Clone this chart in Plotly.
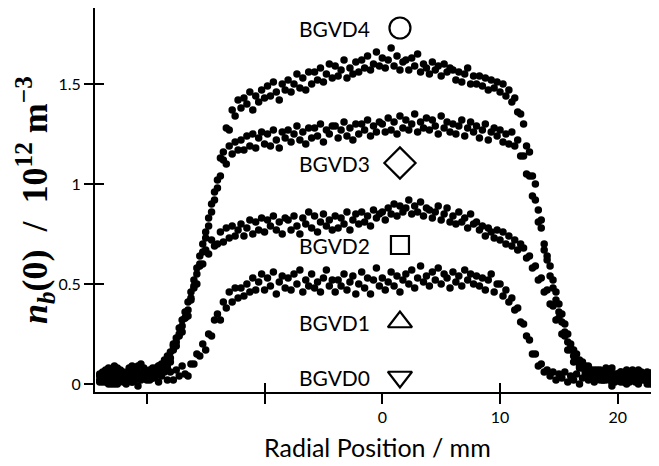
import plotly.graph_objects as go

# Radial scan: first position and step (mm)
RADIAL_START_MM = -24.0
RADIAL_STEP_MM = 0.25

# Beam density profiles n_b(0) in 1e12 m^-3
BGVD1 = [
    0.02, 0.05, 0.01, 0.04, 0.07, 0.00, 0.03, 0.06,
    0.01, 0.04, 0.08, 0.02, 0.05, -0.01, 0.03, 0.06,
    0.02, 0.05, 0.03, 0.07, 0.01, 0.04, 0.06, 0.02,
    0.06, 0.02, 0.07, 0.04, 0.09, 0.05, 0.04, 0.10,
    0.10, 0.15, 0.14, 0.20, 0.17, 0.25, 0.24, 0.32,
    0.35, 0.32, 0.41, 0.38, 0.46, 0.41, 0.48, 0.43,
    0.48, 0.44, 0.50, 0.46, 0.53, 0.47, 0.51, 0.55,
    0.47, 0.53, 0.49, 0.56, 0.45, 0.51, 0.54, 0.48,
    0.53, 0.47, 0.55, 0.50, 0.57, 0.46, 0.52, 0.49,
    0.55, 0.48, 0.51, 0.46, 0.53, 0.57, 0.49, 0.52,
    0.46, 0.52, 0.49, 0.55, 0.47, 0.51, 0.54, 0.45,
    0.50, 0.56, 0.48, 0.53, 0.45, 0.52, 0.58, 0.49,
    0.53, 0.47, 0.51, 0.56, 0.49, 0.54, 0.46, 0.52,
    0.55, 0.50, 0.57, 0.48, 0.53, 0.59, 0.51, 0.54,
    0.49, 0.56, 0.52, 0.58, 0.50, 0.55, 0.53, 0.48,
    0.56, 0.51, 0.54, 0.49, 0.57, 0.52, 0.55, 0.50,
    0.54, 0.49, 0.53, 0.47, 0.52, 0.55, 0.46, 0.50,
    0.50, 0.44, 0.47, 0.41, 0.43, 0.37, 0.38, 0.31,
    0.30, 0.24, 0.22, 0.15, 0.15, 0.09, 0.10, 0.06,
    0.07, 0.04, 0.06, 0.02, 0.05, 0.03, 0.06, 0.01,
    0.04, 0.02, 0.05, 0.00, 0.03, 0.06, 0.02, 0.04,
    0.01, 0.05, 0.03, 0.06, 0.02, 0.04, -0.01, 0.03,
    0.05, 0.02, 0.04, 0.00, 0.06, 0.03, 0.01, 0.04,
    0.02, 0.05, 0.03, 0.00, 0.04, 0.06, 0.02,
]
BGVD2 = [
    0.04, 0.01, 0.06, 0.03, 0.00, 0.05, 0.08, 0.02,
    0.05, 0.03, 0.07, 0.01, 0.04, 0.09, 0.02, 0.06,
    0.05, 0.02, 0.07, 0.04, 0.09, 0.06, 0.11, 0.08,
    0.11, 0.17, 0.19, 0.25, 0.26, 0.33, 0.34, 0.43,
    0.48, 0.50, 0.59, 0.60, 0.67, 0.65, 0.72, 0.69,
    0.70, 0.76, 0.71, 0.78, 0.73, 0.79, 0.74, 0.77,
    0.80, 0.74, 0.78, 0.82, 0.75, 0.81, 0.77, 0.83,
    0.76, 0.82, 0.79, 0.84, 0.77, 0.81, 0.75, 0.83,
    0.82, 0.77, 0.84, 0.79, 0.75, 0.83, 0.80, 0.86,
    0.78, 0.84, 0.76, 0.81, 0.85, 0.79, 0.82, 0.77,
    0.84, 0.78, 0.83, 0.80, 0.86, 0.77, 0.82, 0.85,
    0.80, 0.86, 0.81, 0.84, 0.79, 0.87, 0.83, 0.85,
    0.86, 0.82, 0.88, 0.85, 0.90, 0.84, 0.89, 0.86,
    0.88, 0.92, 0.85, 0.89, 0.86, 0.91, 0.84, 0.88,
    0.87, 0.83, 0.86, 0.89, 0.82, 0.85, 0.88, 0.81,
    0.84, 0.80, 0.86, 0.81, 0.83, 0.78, 0.85, 0.80,
    0.81, 0.77, 0.79, 0.74, 0.78, 0.76, 0.73, 0.77,
    0.72, 0.76, 0.70, 0.74, 0.69, 0.72, 0.67, 0.70,
    0.68, 0.63, 0.64, 0.58, 0.59, 0.52, 0.53, 0.46,
    0.47, 0.40, 0.39, 0.32, 0.33, 0.25, 0.24, 0.17,
    0.17, 0.11, 0.12, 0.08, 0.10, 0.05, 0.07, 0.04,
    0.06, 0.03, 0.07, 0.02, 0.05, 0.04, 0.08, 0.01,
    0.04, 0.06, 0.01, 0.05, 0.02, 0.07, 0.03, 0.00,
    0.05, 0.02, 0.06, 0.03, 0.01, 0.04, 0.07,
]
BGVD3 = [
    0.01, 0.06, 0.03, 0.08, 0.02, 0.04, 0.00, 0.07,
    0.03, 0.00, 0.05, 0.09, 0.02, 0.06, 0.04, 0.08,
    0.04, 0.07, 0.03, 0.08, 0.06, 0.10, 0.09, 0.14,
    0.16, 0.20, 0.21, 0.28, 0.29, 0.36, 0.37, 0.46,
    0.49, 0.58, 0.60, 0.70, 0.73, 0.83, 0.86, 0.96,
    1.02, 1.04, 1.12, 1.10, 1.19, 1.15, 1.21, 1.17,
    1.22, 1.17, 1.24, 1.19, 1.25, 1.18, 1.23, 1.26,
    1.20, 1.25, 1.19, 1.27, 1.22, 1.18, 1.26, 1.23,
    1.27, 1.21, 1.25, 1.29, 1.22, 1.26, 1.20, 1.28,
    1.23, 1.28, 1.24, 1.30, 1.21, 1.27, 1.25, 1.29,
    1.29, 1.23, 1.27, 1.31, 1.24, 1.28, 1.22, 1.30,
    1.25, 1.30, 1.27, 1.32, 1.24, 1.29, 1.26, 1.31,
    1.30, 1.26, 1.33, 1.27, 1.31, 1.25, 1.34, 1.28,
    1.32, 1.27, 1.30, 1.35, 1.26, 1.31, 1.28, 1.33,
    1.27, 1.32, 1.29, 1.25, 1.34, 1.28, 1.31, 1.26,
    1.30, 1.25, 1.29, 1.32, 1.24, 1.28, 1.31, 1.26,
    1.29, 1.23, 1.27, 1.30, 1.22, 1.26, 1.28, 1.24,
    1.27, 1.21, 1.25, 1.20, 1.26, 1.19, 1.22, 1.14,
    1.14, 1.05, 1.04, 0.94, 0.92, 0.81, 0.78, 0.67,
    0.64, 0.54, 0.52, 0.42, 0.40, 0.31, 0.30, 0.21,
    0.20, 0.14, 0.15, 0.09, 0.11, 0.06, 0.09, 0.05,
    0.07, 0.03, 0.06, 0.02, 0.08, 0.04, 0.01, 0.05,
    0.02, 0.06, 0.03, 0.07, 0.01, 0.04, 0.05, 0.02,
    0.06, 0.03, 0.00, 0.05, 0.02, 0.07, 0.04,
]
BGVD4 = [
    0.05, 0.02, 0.07, 0.00, 0.04, 0.09, 0.03, 0.05,
    0.06, 0.02, 0.04, 0.01, 0.07, 0.03, 0.10, 0.05,
    0.06, 0.03, 0.08, 0.05, 0.09, 0.07, 0.12, 0.10,
    0.13, 0.19, 0.23, 0.24, 0.32, 0.33, 0.41, 0.42,
    0.52, 0.55, 0.64, 0.66, 0.76, 0.79, 0.90, 0.92,
    0.98, 1.13, 1.16, 1.28, 1.27, 1.37, 1.34, 1.42,
    1.38, 1.43, 1.40, 1.46, 1.37, 1.44, 1.41, 1.47,
    1.43, 1.49, 1.44, 1.51, 1.46, 1.42, 1.50, 1.47,
    1.52, 1.46, 1.50, 1.55, 1.48, 1.53, 1.47, 1.56,
    1.50, 1.56, 1.52, 1.58, 1.51, 1.55, 1.60, 1.53,
    1.59, 1.54, 1.57, 1.62, 1.53, 1.58, 1.55, 1.61,
    1.56, 1.62, 1.58, 1.64, 1.57, 1.60, 1.66, 1.59,
    1.63, 1.58, 1.62, 1.68, 1.59, 1.64, 1.57, 1.61,
    1.62, 1.57, 1.63, 1.59, 1.65, 1.56, 1.60, 1.58,
    1.55, 1.61, 1.57, 1.59, 1.54, 1.60, 1.56, 1.58,
    1.57, 1.52, 1.56, 1.51, 1.55, 1.58, 1.50, 1.54,
    1.50, 1.54, 1.49, 1.53, 1.47, 1.52, 1.48, 1.51,
    1.46, 1.50, 1.44, 1.47, 1.41, 1.43, 1.36, 1.35,
    1.30, 1.19, 1.16, 1.04, 1.00, 0.87, 0.82, 0.70,
    0.62, 0.59, 0.48, 0.46, 0.36, 0.35, 0.26, 0.25,
    0.18, 0.17, 0.12, 0.12, 0.08, 0.09, 0.05, 0.07,
    0.04, 0.07, 0.02, 0.05, 0.03, 0.06, 0.01, 0.04,
    0.05, 0.01, 0.04, 0.06, 0.02, 0.05, 0.03, 0.07,
    0.03, 0.05, 0.01, 0.04, 0.06, 0.02, 0.04,
]
SERIES = {"BGVD1": BGVD1, "BGVD2": BGVD2, "BGVD3": BGVD3, "BGVD4": BGVD4}

# In-plot series labels and their key symbols
LABEL_NAMES = ["BGVD4", "BGVD3", "BGVD2", "BGVD1", "BGVD0"]
LABEL_Y = [1.78, 1.105, 0.695, 0.31, 0.035]
LABEL_SYMBOLS = ["circle-open", "diamond-open", "square-open", "triangle-up-open", "triangle-down-open"]
LABEL_SYMBOL_SIZES = [21, 24, 18, 21, 21]
LABEL_TEXT_X = -4.1
LABEL_KEY_X = 1.5

X_TICKS = [-20, -10, 0, 10, 20]
X_TICK_TEXT = ["", "", "0", "10", "20"]
Y_TICKS = [0, 0.5, 1, 1.5]
Y_TICK_TEXT = ["0", "0.5", "1", "1.5"]
X_RANGE = [-24.4, 23.5]
Y_RANGE = [-0.04, 1.88]

X_TITLE = "Radial Position / mm"
Y_TITLE = "<b><i>n</i><sub><i>b</i></sub>(0)  /  10<sup>12</sup> m<sup>−3</sup></b>"

SANS = "Lato, 'Open Sans', sans-serif"
SERIF = "'Liberation Serif', 'DejaVu Serif', serif"

fig = go.Figure()
for name, vals in SERIES.items():
    xs = [round(RADIAL_START_MM + RADIAL_STEP_MM * i, 2) for i in range(len(vals))]
    fig.add_trace(go.Scatter(
        x=xs, y=vals, mode="markers", name=name,
        marker=dict(color="black", size=7.5, opacity=1, line=dict(width=0)),
        cliponaxis=True,
    ))

fig.add_trace(go.Scatter(
    x=[LABEL_KEY_X] * len(LABEL_Y), y=LABEL_Y, mode="markers",
    xaxis="x2", yaxis="y2",
    marker=dict(symbol=LABEL_SYMBOLS, size=LABEL_SYMBOL_SIZES, color="#000000",
                opacity=1, line=dict(color="#000000", width=2.2)),
    hoverinfo="skip",
))

for name, y in zip(LABEL_NAMES, LABEL_Y):
    fig.add_annotation(x=LABEL_TEXT_X, y=y, text=name, showarrow=False,
                       xanchor="center", yanchor="middle",
                       font=dict(family=SANS, size=21, color="black"))

# Axis titles as annotations positioned relative to the plot area
fig.add_annotation(x=0, xref="paper", y=0.5, yref="paper", xshift=-60,
                   text=Y_TITLE, textangle=-90, showarrow=False,
                   xanchor="center", yanchor="middle",
                   font=dict(family=SERIF, size=36, color="black"))
fig.add_annotation(x=0.5, xref="paper", y=0, yref="paper", yshift=-55,
                   text=X_TITLE, showarrow=False,
                   xanchor="center", yanchor="middle",
                   font=dict(family=SANS, size=25, color="black"))

# The page body has an 8px margin, so the figure is 8px smaller and offset.
fig.update_layout(
    width=651, height=458,
    margin=dict(l=87, r=0, t=0, b=74, autoexpand=False),
    plot_bgcolor="white", paper_bgcolor="white",
    showlegend=False,
    xaxis=dict(
        range=X_RANGE, showline=True, linecolor="black", linewidth=2,
        ticks="outside", ticklen=10, tickwidth=2, tickcolor="black",
        tickmode="array", tickvals=X_TICKS, ticktext=X_TICK_TEXT,
        tickfont=dict(family=SANS, size=16, color="black"),
        showgrid=False, zeroline=False, automargin=False,
    ),
    yaxis=dict(
        range=Y_RANGE, showline=True, linecolor="black", linewidth=2,
        ticks="outside", ticklen=9, tickwidth=2, tickcolor="black",
        tickmode="array", tickvals=Y_TICKS, ticktext=Y_TICK_TEXT,
        tickfont=dict(family=SANS, size=16, color="black"),
        showgrid=False, zeroline=False, automargin=False,
    ),
    xaxis2=dict(
        range=X_RANGE, overlaying="x", side="bottom", anchor="y2",
        showline=False, ticks="inside", ticklen=9, tickwidth=2, tickcolor="black",
        tickmode="array", tickvals=[-10, 10], showticklabels=False,
        showgrid=False, zeroline=False, automargin=False,
    ),
    yaxis2=dict(
        range=Y_RANGE, overlaying="y", side="left", anchor="x2",
        showline=False, ticks="inside", ticklen=9, tickwidth=2, tickcolor="black",
        tickmode="array", tickvals=[0.5, 1, 1.5], showticklabels=False,
        showgrid=False, zeroline=False, automargin=False,
    ),
)

fig.write_html("out.html")
